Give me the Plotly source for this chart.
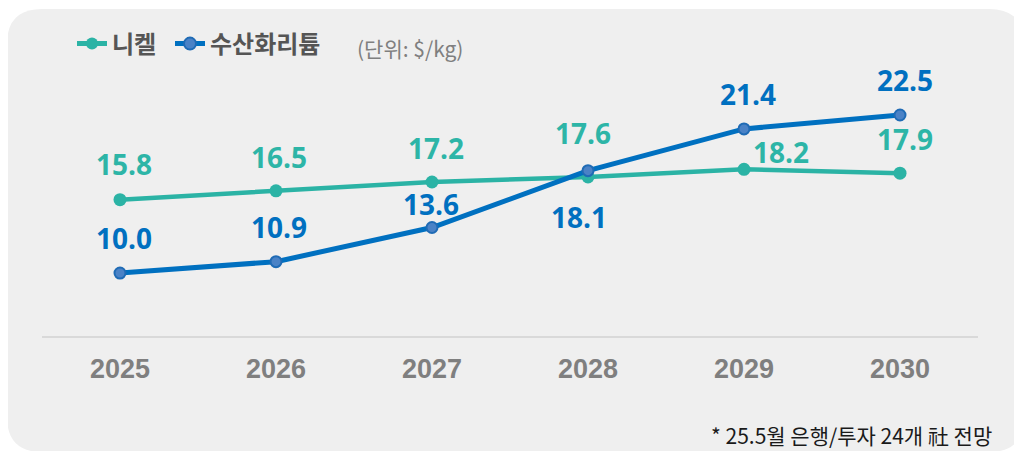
import plotly.graph_objects as go

# ---- data ----
years = ["2025", "2026", "2027", "2028", "2029", "2030"]
nickel = [15.8, 16.5, 17.2, 17.6, 18.2, 17.9]
lithium = [10.0, 10.9, 13.6, 18.1, 21.4, 22.5]
series_names = ["니켈", "수산화리튬"]
unit_text = "(단위: $/kg)"
footnote = "* 25.5월 은행/투자 24개 社 전망"

# ---- label offsets (px) ----
nickel_dx = [4, 3, 4, -5, 37, 5]
nickel_dy = [36, 34, 34, 44, 17, 34]
lithium_dx = [4, 3, -1, -9, 4, 5]
lithium_dy = [35, 35, 24, -46, 35, 35]

# page body has an 8px margin: work in reference pixels, shift by OFF
OFF = 8
W, H = 1022 - OFF, 451 - OFF
L, T = 42 - OFF, 60 - OFF
R = W - (978 - OFF)
B = H - (336 - OFF)
PW, PH = W - L - R, H - T - B

def px(x):
    return (x - OFF - L) / PW

def py(y):
    return (H - B - (y - OFF)) / PH

TEAL = "#2BB3A5"
BLUE = "#0070C0"

fig = go.Figure()
fig.add_trace(go.Scatter(
    x=years, y=nickel, name=series_names[0], mode="lines+markers", legend="legend",
    line=dict(color=TEAL, width=4.5),
    marker=dict(color=TEAL, size=13, line=dict(color=TEAL, width=0)),
))
fig.add_trace(go.Scatter(
    x=years, y=lithium, name=series_names[1], mode="lines+markers", legend="legend2",
    line=dict(color=BLUE, width=5),
    marker=dict(color="#4A82C6", size=11, line=dict(color="#1F6BB5", width=2)),
))

ann = []
for i, (v, dx, dy) in enumerate(zip(nickel, nickel_dx, nickel_dy)):
    ann.append(dict(x=i, y=v, text=f"{v:.1f}", showarrow=False, xshift=dx, yshift=dy,
                    font=dict(family="Open Sans", size=28, color="#2DB5A7", weight="bold")))
for i, (v, dx, dy) in enumerate(zip(lithium, lithium_dx, lithium_dy)):
    ann.append(dict(x=i, y=v, text=f"{v:.1f}", showarrow=False, xshift=dx, yshift=dy,
                    font=dict(family="Open Sans", size=28, color=BLUE, weight="bold")))
ann.append(dict(xref="paper", yref="paper", x=px(355), y=py(48), xanchor="left", yanchor="middle",
                text=unit_text, showarrow=False,
                font=dict(family="Noto Sans CJK KR", size=21, color="#7F7F7F")))
ann.append(dict(xref="paper", yref="paper", x=px(994), y=py(435), xanchor="right", yanchor="middle",
                text=footnote, showarrow=False,
                font=dict(family="Noto Sans CJK KR", size=21, color="#1A1A1A")))

# rounded card background
x0, y0, x1, y1, r = 7, 9, 1024, 452, 35
def P(x, y):
    return f"{px(x):.5f},{py(y):.5f}"
path = (f"M {P(x0 + r, y0)} L {P(x1 - r, y0)} Q {P(x1, y0)} {P(x1, y0 + r)} "
        f"L {P(x1, y1 - r)} Q {P(x1, y1)} {P(x1 - r, y1)} "
        f"L {P(x0 + r, y1)} Q {P(x0, y1)} {P(x0, y1 - r)} "
        f"L {P(x0, y0 + r)} Q {P(x0, y0)} {P(x0 + r, y0)} Z")

legend_style = dict(orientation="h", y=py(44), xanchor="left", yanchor="middle",
                    bgcolor="rgba(0,0,0,0)",
                    font=dict(family="Noto Sans CJK KR", size=24, color="#555555", weight="bold"),
                    itemsizing="constant", tracegroupgap=0)

fig.update_layout(
    width=W, height=H,
    margin=dict(l=L, r=R, t=T, b=B, pad=0),
    paper_bgcolor="white", plot_bgcolor="rgba(0,0,0,0)",
    shapes=[dict(type="path", xref="paper", yref="paper", path=path,
                 fillcolor="#EFEFEF", line=dict(width=0), layer="below")],
    annotations=ann,
    showlegend=True,
    legend=dict(x=px(72), **legend_style),
    legend2=dict(x=px(170), **legend_style),
    xaxis=dict(type="category", range=[-0.5, 5.5], showgrid=False, zeroline=False,
               showline=True, linecolor="#D9D9D9", linewidth=2, ticks="",
               tickfont=dict(family="Liberation Sans", size=27, color="#7F7F7F", weight="bold"),
               ticklabelstandoff=8),
    yaxis=dict(range=[5.02, 26.85], visible=False, showgrid=False, zeroline=False),
)

fig.write_html("out.html")
